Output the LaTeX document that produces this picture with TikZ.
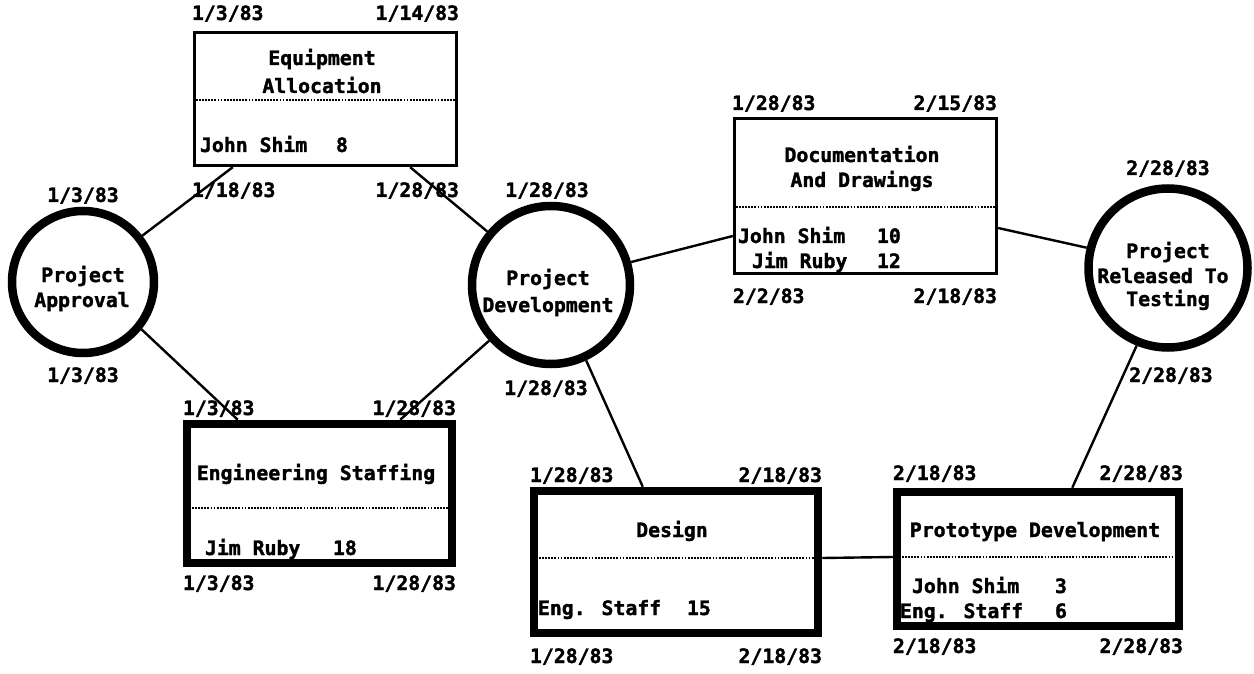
\documentclass[tikz,border=0pt]{standalone}
\usepackage{fontspec}
\newfontfamily\plotfont[FakeBold=1.6]{DejaVu Sans Mono Bold}
\tikzset{
  txt/.style={font=\plotfont\fontsize{19.8bp}{25bp}\selectfont, inner sep=0pt, outer sep=0pt},
  thinbox/.style={draw, line width=2.8bp, inner sep=0pt},
  thickbox/.style={draw, line width=8.5bp, inner sep=0pt},
  event/.style={circle, draw, line width=8.5bp, inner sep=0pt},
  link/.style={line width=2.4bp},
  dotline/.style={line width=2.2bp, dash pattern=on 1.8bp off 1.3bp, shorten <=3bp, shorten >=3bp},
}
\begin{document}
\begin{tikzpicture}[x=1bp,y=-1bp]
\useasboundingbox (0,0) rectangle (1254,674);
% boxes and events
\node[thinbox, minimum width=262.5bp, minimum height=133.5bp] (eq) at (325.5,99) {};
\node[thickbox, minimum width=265bp, minimum height=139bp] (es) at (319.5,493.5) {};
\node[thinbox, minimum width=262.5bp, minimum height=155.5bp] (doc) at (865.5,196) {};
\node[thickbox, minimum width=284bp, minimum height=142bp] (des) at (676,562) {};
\node[thickbox, minimum width=282bp, minimum height=134bp] (pro) at (1038,559) {};
\node[event, minimum size=142bp] (pa) at (83,282) {};
\node[event, minimum size=158bp] (pd) at (551,285) {};
\node[event, minimum size=159bp] (rel) at (1168,268) {};
% dotted separators
\coordinate (eqy) at (0,100);
\coordinate (esy) at (0,508);
\coordinate (docy) at (0,207);
\coordinate (desy) at (0,558);
\coordinate (proy) at (0,557);
\draw[dotline] (eq.west |- eqy) -- (eq.east |- eqy);
\draw[dotline] (es.west |- esy) -- (es.east |- esy);
\draw[dotline] (doc.west |- docy) -- (doc.east |- docy);
\draw[dotline] (des.west |- desy) -- (des.east |- desy);
\draw[dotline] (pro.west |- proy) -- (pro.east |- proy);
% connectors
\draw[link] (pa.38) -- ([xshift=40bp]eq.south west);
\draw[link] ([xshift=-48bp]eq.south east) -- (pd.140);
\draw[link] (pa.-39) -- ([xshift=55bp]es.north west);
\draw[link] (pd.-138) -- ([xshift=-56bp]es.north east);
\draw[link] (pd.16) -- ([yshift=-40bp]doc.west);
\draw[link] (pd.-65) -- ([xshift=113bp]des.north west);
\draw[link] ([yshift=-32bp]doc.east) -- (rel.166);
\draw[link] (rel.-112) -- ([xshift=-111bp]pro.north east);
\draw[link] ([yshift=4bp]des.east) -- ([yshift=2bp]pro.west);
% Equipment Allocation
\node[txt, anchor=base] (eqt1) at (322,65) {Equipment};
\node[txt, anchor=base] (eqt2) at (322,93) {Allocation};
\node[txt, anchor=base west] (eqr1) at (200,152) {John Shim};
\node[txt, anchor=base west] (eqn1) at (336,152) {8};
\node[txt, anchor=base west] (eqd1) at (192,20) {1/3/83};
\node[txt, anchor=base east] (eqd2) at (459,20) {1/14/83};
\node[txt, anchor=base west] (eqd3) at (192,197) {1/18/83};
\node[txt, anchor=base east] (eqd4) at (459,197) {1/28/83};
% Project Approval
\node[txt, anchor=base] (pat1) at (83,282) {Project};
\node[txt, anchor=base] (pat2) at (82,307) {Approval};
\node[txt, anchor=base] (pad1) at (83,202) {1/3/83};
\node[txt, anchor=base] (pad2) at (83,382) {1/3/83};
% Engineering Staffing
\node[txt, anchor=base] (est1) at (316,480) {Engineering Staffing};
\node[txt, anchor=base west] (esr1) at (205,555) {Jim Ruby};
\node[txt, anchor=base west] (esn1) at (333,555) {18};
\node[txt, anchor=base west] (esd1) at (183,415) {1/3/83};
\node[txt, anchor=base east] (esd2) at (456,415) {1/28/83};
\node[txt, anchor=base west] (esd3) at (183,590) {1/3/83};
\node[txt, anchor=base east] (esd4) at (456,590) {1/28/83};
% Project Development
\node[txt, anchor=base] (pdt1) at (548,285) {Project};
\node[txt, anchor=base] (pdt2) at (548,312) {Development};
\node[txt, anchor=base] (pdd1) at (547,197) {1/28/83};
\node[txt, anchor=base] (pdd2) at (546,395) {1/28/83};
% Documentation And Drawings
\node[txt, anchor=base] (doct1) at (862,162) {Documentation};
\node[txt, anchor=base] (doct2) at (862,187) {And Drawings};
\node[txt, anchor=base west] (docr1) at (738,243) {John Shim};
\node[txt, anchor=base west] (docn1) at (877,243) {10};
\node[txt, anchor=base west] (docr2) at (752,268) {Jim Ruby};
\node[txt, anchor=base west] (docn2) at (877,268) {12};
\node[txt, anchor=base west] (docd1) at (732,110) {1/28/83};
\node[txt, anchor=base east] (docd2) at (997,110) {2/15/83};
\node[txt, anchor=base west] (docd3) at (733,303) {2/2/83};
\node[txt, anchor=base east] (docd4) at (997,303) {2/18/83};
% Project Released To Testing
\node[txt, anchor=base] (relt1) at (1168,258) {Project};
\node[txt, anchor=base] (relt2) at (1163,283) {Released To};
\node[txt, anchor=base] (relt3) at (1168,306) {Testing};
\node[txt, anchor=base] (reld1) at (1168,175) {2/28/83};
\node[txt, anchor=base] (reld2) at (1171,382) {2/28/83};
% Design
\node[txt, anchor=base] (dest1) at (672,537) {Design};
\node[txt, anchor=base west] (desr1) at (538,615) {Eng. Staff};
\node[txt, anchor=base west] (desn1) at (687,615) {15};
\node[txt, anchor=base west] (desd1) at (530,482) {1/28/83};
\node[txt, anchor=base east] (desd2) at (822,482) {2/18/83};
\node[txt, anchor=base west] (desd3) at (530,663) {1/28/83};
\node[txt, anchor=base east] (desd4) at (822,663) {2/18/83};
% Prototype Development
\node[txt, anchor=base] (prot1) at (1035,537) {Prototype Development};
\node[txt, anchor=base west] (pror1) at (912,593) {John Shim};
\node[txt, anchor=base west] (pron1) at (1055,593) {3};
\node[txt, anchor=base west] (pror2) at (900,618) {Eng. Staff};
\node[txt, anchor=base west] (pron2) at (1055,618) {6};
\node[txt, anchor=base west] (prod1) at (893,480) {2/18/83};
\node[txt, anchor=base east] (prod2) at (1183,480) {2/28/83};
\node[txt, anchor=base west] (prod3) at (893,653) {2/18/83};
\node[txt, anchor=base east] (prod4) at (1183,653) {2/28/83};
\end{tikzpicture}
\end{document}
